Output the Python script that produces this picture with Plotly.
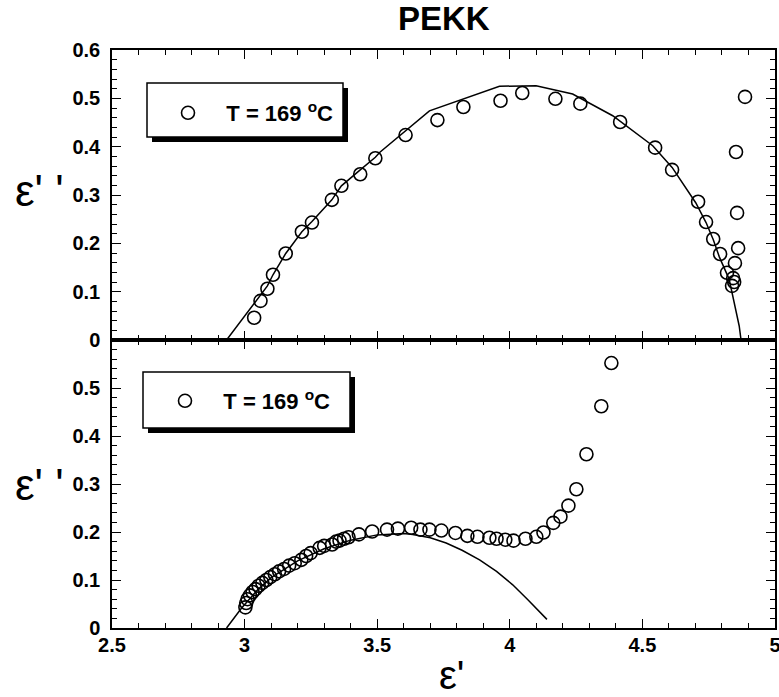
import plotly.graph_objects as go
from plotly.subplots import make_subplots

# ---------------- data ----------------
top_x = [3.036, 3.060, 3.086, 3.107, 3.155, 3.216, 3.254, 3.329, 3.365, 3.436, 3.493,
         3.607, 3.727, 3.825, 3.965, 4.047, 4.172, 4.266, 4.416, 4.548, 4.612, 4.710,
         4.740, 4.767, 4.793, 4.819, 4.842, 4.846, 4.838, 4.849, 4.861, 4.857, 4.853, 4.887]
top_y = [0.046, 0.081, 0.106, 0.135, 0.179, 0.224, 0.243, 0.290, 0.319, 0.343, 0.376,
         0.424, 0.455, 0.482, 0.495, 0.511, 0.499, 0.489, 0.451, 0.398, 0.352, 0.286,
         0.244, 0.209, 0.178, 0.139, 0.128, 0.120, 0.112, 0.159, 0.190, 0.263, 0.389, 0.503]

top_fit_x = [2.932, 3.086, 3.107, 3.155, 3.216, 3.254, 3.329, 3.365, 3.436, 3.493, 3.509,
             3.697, 3.961, 4.099, 4.237, 4.388, 4.539, 4.612, 4.701, 4.740, 4.767, 4.790,
             4.827, 4.865, 4.872]
top_fit_y = [0.000, 0.112, 0.135, 0.179, 0.224, 0.245, 0.290, 0.319, 0.352, 0.378, 0.388,
             0.474, 0.525, 0.526, 0.509, 0.464, 0.402, 0.357, 0.284, 0.243, 0.208, 0.172,
             0.126, 0.029, 0.000]

bot_x = [3.003, 3.006, 3.011, 3.020, 3.030, 3.041, 3.053, 3.067, 3.082, 3.097, 3.114,
         3.130, 3.149, 3.168, 3.189, 3.214, 3.232, 3.249, 3.283, 3.300, 3.330, 3.345,
         3.358, 3.375, 3.392, 3.431, 3.481, 3.537, 3.578, 3.628, 3.663, 3.697, 3.742,
         3.795, 3.840, 3.878, 3.923, 3.950, 3.983, 4.014, 4.059, 4.100, 4.127, 4.164,
         4.191, 4.221, 4.251, 4.289, 4.345, 4.383]
bot_y = [0.043, 0.052, 0.060, 0.068, 0.075, 0.081, 0.088, 0.094, 0.100, 0.106, 0.112,
         0.118, 0.123, 0.130, 0.135, 0.142, 0.150, 0.156, 0.167, 0.171, 0.174, 0.180,
         0.182, 0.186, 0.189, 0.195, 0.201, 0.205, 0.207, 0.209, 0.205, 0.205, 0.203,
         0.198, 0.192, 0.190, 0.188, 0.186, 0.184, 0.182, 0.186, 0.190, 0.199, 0.219,
         0.232, 0.255, 0.289, 0.362, 0.462, 0.552]

bot_fit_x = [2.932, 2.988, 3.050, 3.100, 3.200, 3.300, 3.400, 3.500, 3.600, 3.634,
             3.700, 3.760, 3.820, 3.886, 3.950, 4.011, 4.070, 4.140]
bot_fit_y = [0.000, 0.041, 0.080, 0.105, 0.140, 0.165, 0.183, 0.194, 0.197, 0.195,
             0.188, 0.177, 0.162, 0.142, 0.118, 0.090, 0.058, 0.018]

x_tickvals = [2.5, 3.0, 3.5, 4.0, 4.5, 5.0]
x_ticktext = ["2.5", "3", "3.5", "4", "4.5", "5"]
top_y_tickvals = [0, 0.1, 0.2, 0.3, 0.4, 0.5, 0.6]
top_y_ticktext = ["0", "0.1", "0.2", "0.3", "0.4", "0.5", "0.6"]
bot_y_tickvals = [0, 0.1, 0.2, 0.3, 0.4, 0.5]
bot_y_ticktext = ["0", "0.1", "0.2", "0.3", "0.4", "0.5"]

title_text = "PEKK"
legend_label = "T = 169 <sup>o</sup>C"
y_title = "\u03b5' '"
x_title = "\u03b5'"

# ---------------- layout helpers ----------------
W, H = 779, 697
L, R, T, B = 112, 4, 50, 69
PW, PH = W - L - R, H - T - B


def px(x):
    return (x - L) / PW


def py(y):
    return (H - B - y) / PH


split = py(340)

fig = make_subplots(rows=2, cols=1, vertical_spacing=0)

marker = dict(symbol="circle-open", size=13, color="black", line=dict(width=1.6, color="black"))
line = dict(color="black", width=1.5)
pad = "\u00a0" * 3

fig.add_trace(go.Scatter(x=top_fit_x, y=top_fit_y, mode="lines", line=line,
                         showlegend=False, hoverinfo="skip"), row=1, col=1)
fig.add_trace(go.Scatter(x=top_x, y=top_y, mode="markers", marker=marker,
                         name=pad + legend_label, legend="legend"), row=1, col=1)
fig.add_trace(go.Scatter(x=bot_fit_x, y=bot_fit_y, mode="lines", line=line,
                         showlegend=False, hoverinfo="skip"), row=2, col=1)
fig.add_trace(go.Scatter(x=bot_x, y=bot_y, mode="markers", marker=marker,
                         name=pad + legend_label, legend="legend2"), row=2, col=1)

FONT = "Liberation Sans, Arial, sans-serif"
tickfont = dict(family=FONT, size=20, color="black", weight="bold")

common_axis = dict(showline=True, linecolor="black", linewidth=1.5, mirror="ticks",
                   ticks="inside", tickcolor="black", tickwidth=1.3, ticklen=9,
                   showgrid=False, zeroline=False, tickfont=tickfont, automargin=False)

xax = dict(common_axis, range=[2.5, 5.0], tickvals=x_tickvals, ticktext=x_ticktext,
           minor=dict(tickvals=[2.5 + 0.1 * i for i in range(26)], ticks="inside",
                      ticklen=5, tickcolor="black", tickwidth=1.1))
fig.update_xaxes(xax, row=1, col=1)
fig.update_xaxes(xax, row=2, col=1)
fig.update_xaxes(showticklabels=False, row=1, col=1)
fig.update_xaxes(ticklabelstandoff=-2, ticklabeloverflow="allow", row=2, col=1)

yminor = dict(dtick=0.02, ticks="inside", ticklen=5, tickcolor="black", tickwidth=1.1)
fig.update_yaxes(common_axis, range=[0, 0.6], tickvals=top_y_tickvals, ticktext=top_y_ticktext,
                 minor=yminor, domain=[split, 1.0], ticklabelstandoff=6,
                 ticklabeloverflow="allow", row=1, col=1)
fig.update_yaxes(common_axis, range=[0, 0.6], tickvals=bot_y_tickvals, ticktext=bot_y_ticktext,
                 minor=yminor, domain=[0.0, split], ticklabelstandoff=6,
                 ticklabeloverflow="allow", row=2, col=1)

# legend boxes with drop shadows
shapes = []
for (x0, y0, x1, y1) in [(147, 83, 343, 137), (143, 372, 350, 428)]:
    shapes.append(dict(type="rect", xref="paper", yref="paper",
                       x0=px(x0 + 5), x1=px(x1 + 5), y0=py(y1 + 5), y1=py(y0 + 5),
                       fillcolor="black", line=dict(width=0), layer="above"))
    shapes.append(dict(type="rect", xref="paper", yref="paper",
                       x0=px(x0), x1=px(x1), y0=py(y1), y1=py(y0),
                       fillcolor="white", line=dict(color="black", width=1.5), layer="above"))

legfont = dict(family=FONT, size=22, color="black", weight="bold")
leg_common = dict(bgcolor="rgba(0,0,0,0)", borderwidth=0, font=legfont,
                  xanchor="left", yanchor="middle")

ann_common = dict(xref="paper", yref="paper", showarrow=False, xanchor="center", yanchor="middle")
annots = [
    dict(ann_common, text="<b>" + title_text + "</b>", x=px(444), y=py(18),
         font=dict(family=FONT, size=33, color="black")),
    dict(ann_common, text=y_title, x=px(39), y=py(190),
         font=dict(family=FONT, size=44, color="black")),
    dict(ann_common, text=y_title, x=px(39), y=py(484),
         font=dict(family=FONT, size=44, color="black")),
    dict(ann_common, text=x_title, x=px(452), y=py(675),
         font=dict(family=FONT, size=40, color="black")),
]

fig.update_layout(
    width=W, height=H, margin=dict(l=L, r=R, t=T, b=B),
    paper_bgcolor="white", plot_bgcolor="white",
    shapes=shapes, annotations=annots,
    legend=dict(leg_common, x=px(168), y=py(113)),
    legend2=dict(leg_common, x=px(165), y=py(401)),
)

fig.write_html("out.html", config={"displayModeBar": False},
               post_script="document.body.style.margin='0';")
